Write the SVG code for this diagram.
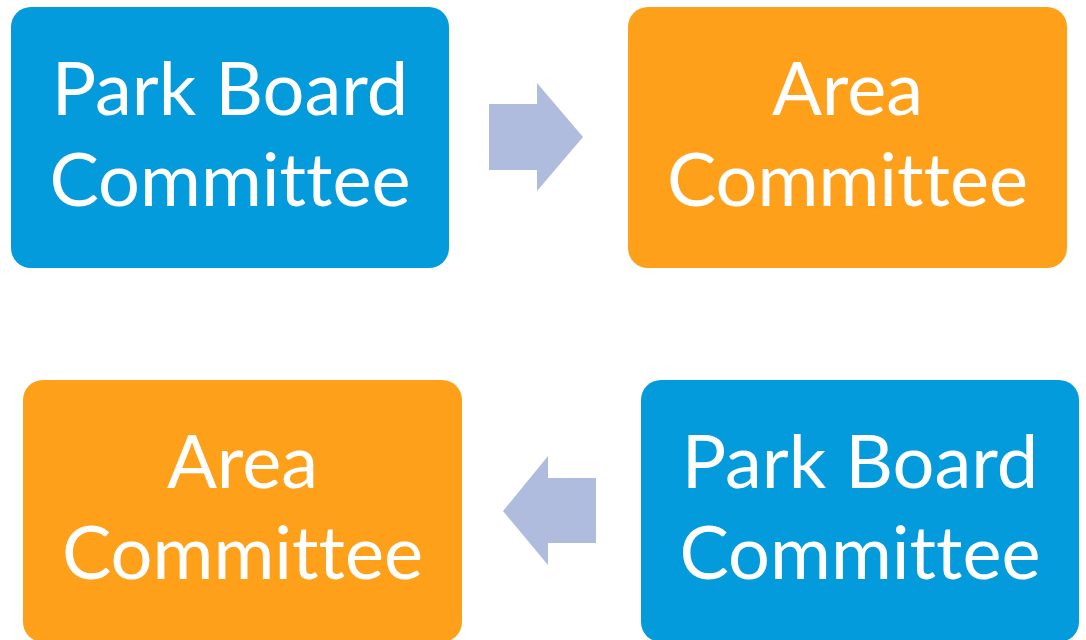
<svg xmlns="http://www.w3.org/2000/svg" width="1086" height="640" viewBox="0 0 1086 640">
<style>
.blue{fill:#039BDB}
.orange{fill:#FFA01A}
.arr{fill:#B0BCDE}
text{font-family:Lato,"Open Sans",sans-serif;font-size:74px;fill:#fff;text-anchor:middle;font-variant-ligatures:none;font-feature-settings:"liga" 0,"clig" 0}
</style>
<rect width="1086" height="640" fill="#fff"/>
<g id="connectors">
<path class="arr" d="M489,104 H537 V83 L583,137 L537,191 V170 H489 Z"/>
<path class="arr" d="M596,478 H548 V456 L503,511 L548,565 V543 H596 Z"/>
</g>
<g id="node1">
<rect class="blue" x="11" y="7" width="438" height="261" rx="20"/>
<text x="230" y="115">Park Board</text>
<text x="230" y="206">Committee</text>
</g>
<g id="node2">
<rect class="orange" x="628" y="7" width="439" height="261" rx="20"/>
<text x="847.5" y="115">Area</text>
<text x="847.5" y="206">Committee</text>
</g>
<g id="node3">
<rect class="orange" x="23" y="380" width="439" height="262" rx="20"/>
<text x="242.5" y="488">Area</text>
<text x="242.5" y="579">Committee</text>
</g>
<g id="node4">
<rect class="blue" x="641" y="380" width="438" height="262" rx="20"/>
<text x="860" y="488">Park Board</text>
<text x="860" y="579">Committee</text>
</g>
</svg>
